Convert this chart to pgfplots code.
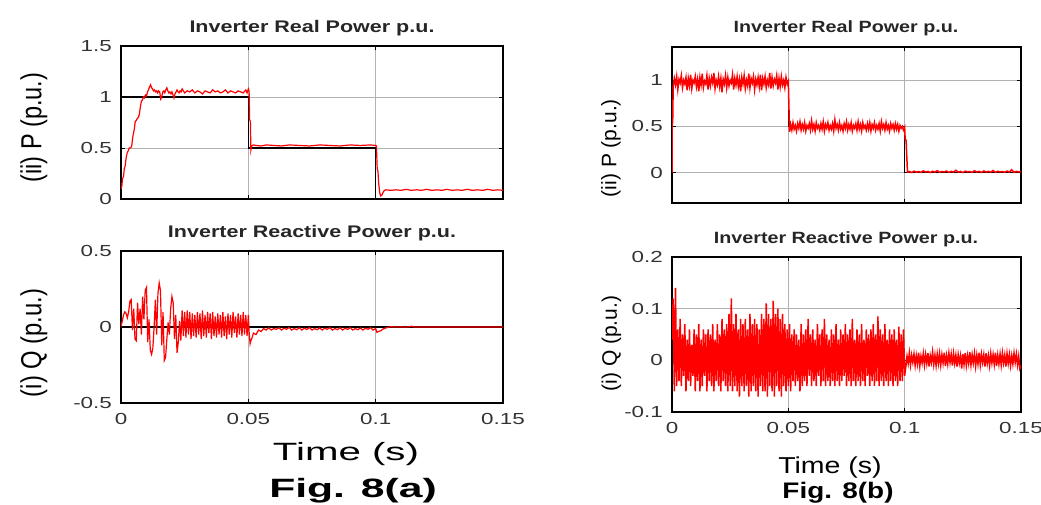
\documentclass[border=0pt]{standalone}
\usepackage{fontspec}
\setmainfont{Liberation Sans}
\usepackage{pgfplots}
\pgfplotsset{compat=1.18}

\pgfplotsset{
  mat/.style={
    scale only axis,
    anchor=south west,
    xmin=0, xmax=0.15,
    xtick={0,0.05,0.1,0.15},
    grid=major,
    grid style={black!30, line width=0.8pt},
    axis line style={line width=1.3pt},
    tick style={black, line width=0.6pt},
    major tick length=4pt,
    tick label style={font=\fontsize{16}{16}\selectfont, text=black!80, xscale=1.4},
    yticklabel style={xshift=-3pt},
    xticklabel style={yshift=-7pt},
  },
  reftrace/.style={black, line width=1.1pt},
  meas/.style={red, line width=1.2pt},
  measb/.style={red, line width=1.5pt},
}

\begin{document}
\begin{tikzpicture}
\useasboundingbox (0pt,0pt) rectangle (1041pt,504pt);

% ---------- Fig. 8(a), real power ----------
\begin{axis}[mat, at={(121pt,305pt)}, width=382pt, height=153pt,
  ymin=0, ymax=1.5, ytick={0,0.5,1,1.5}, yticklabels={0,0.5,1,1.5},
  xticklabels={}]
\addplot[reftrace] coordinates {(0,0) (0,1) (0.05,1) (0.05,0.5) (0.1,0.5) (0.1,0) (0.15,0)};
\addplot[meas] coordinates {
(0,0.1) (0.0003,0.12) (0.0006,0.2) (0.001,0.22) (0.0013,0.3) (0.0016,0.32) (0.002,0.4) (0.0024,0.45)
(0.0028,0.47) (0.0032,0.5) (0.0038,0.5) (0.0042,0.52) (0.0047,0.62) (0.0052,0.68) (0.0056,0.76) (0.006,0.77)
(0.0064,0.79) (0.0068,0.8) (0.0072,0.83) (0.0076,0.9) (0.008,0.96) (0.0084,0.97) (0.0088,1.0) (0.0092,0.99)
(0.0096,1.02) (0.01,1.01) (0.0104,1.05) (0.0108,1.07) (0.0112,1.1) (0.0116,1.12) (0.012,1.09) (0.0124,1.08)
(0.0128,1.06) (0.0132,1.07) (0.0136,1.05) (0.014,1.06) (0.0144,1.04) (0.0148,1.06) (0.0152,1.05) (0.0156,0.98)
(0.016,1.0) (0.0164,1.05) (0.0168,1.06) (0.0172,1.04) (0.0176,1.07) (0.018,1.09) (0.0184,1.06) (0.0188,1.04)
(0.0192,1.05) (0.0196,1.03) (0.02,1.05) (0.0204,1.02) (0.0208,0.99) (0.0212,1.03) (0.0216,1.05) (0.022,1.07)
(0.0224,1.05) (0.0228,1.04) (0.0232,1.06) (0.0236,1.05) (0.024,1.08) (0.025,1.04) (0.026,1.06) (0.027,1.05)
(0.028,1.07) (0.029,1.04) (0.03,1.06) (0.031,1.05) (0.032,1.03) (0.033,1.06) (0.034,1.05) (0.035,1.04)
(0.036,1.07) (0.037,1.05) (0.038,1.06) (0.039,1.04) (0.04,1.05) (0.041,1.07) (0.042,1.04) (0.043,1.06)
(0.044,1.05) (0.045,1.04) (0.046,1.06) (0.047,1.05) (0.048,1.04) (0.049,1.07) (0.0495,1.04) (0.05,1.08)
(0.0503,1.06) (0.0505,0.78) (0.0508,0.76) (0.051,0.48) (0.0513,0.52) (0.052,0.53) (0.053,0.525) (0.055,0.52)
(0.057,0.53) (0.06,0.525) (0.063,0.52) (0.066,0.53) (0.07,0.525) (0.074,0.52) (0.078,0.53) (0.082,0.525)
(0.086,0.52) (0.09,0.53) (0.094,0.525) (0.098,0.53) (0.1,0.525) (0.1003,0.52) (0.1006,0.3) (0.1009,0.27)
(0.1012,0.15) (0.1016,0.06) (0.102,0.03) (0.1025,0.04) (0.103,0.07) (0.1035,0.085) (0.104,0.09) (0.106,0.085)
(0.108,0.09) (0.11,0.085) (0.112,0.095) (0.114,0.085) (0.116,0.09) (0.118,0.085) (0.12,0.095) (0.122,0.085)
(0.124,0.09) (0.126,0.085) (0.128,0.095) (0.13,0.085) (0.132,0.09) (0.134,0.085) (0.136,0.095) (0.138,0.085)
(0.14,0.09) (0.142,0.085) (0.144,0.095) (0.146,0.085) (0.148,0.09) (0.15,0.085)};
\end{axis}

% ---------- Fig. 8(a), reactive power ----------
\begin{axis}[mat, at={(121pt,101pt)}, width=382pt, height=152pt,
  ymin=-0.5, ymax=0.5, ytick={-0.5,0,0.5}, yticklabels={-0.5,0,0.5},
  xticklabels={0,0.05,0.1,0.15}]
\addplot[reftrace] coordinates {(0,0) (0.15,0)};
\addplot[meas] coordinates {
(0,0) (0.0005,0.04) (0.001,0.08) (0.0015,0.1) (0.002,0.09) (0.0025,0.06) (0.003,0.1) (0.0035,0.17)
(0.004,0.18) (0.0045,-0.02) (0.005,0.12) (0.0055,-0.08) (0.006,-0.09) (0.0065,0.16) (0.007,0.02) (0.0075,0.12)
(0.008,-0.05) (0.0085,0.2) (0.009,0.05) (0.0095,0.24) (0.01,0.26) (0.0105,-0.1) (0.011,0.05) (0.0115,-0.15)
(0.012,-0.18) (0.0125,-0.14) (0.013,0.0) (0.0135,0.18) (0.014,-0.05) (0.0145,0.22) (0.015,0.29) (0.0155,0.24)
(0.016,-0.12) (0.0165,0.1) (0.017,-0.22) (0.0175,-0.2) (0.018,-0.08) (0.0185,0.03) (0.019,-0.05) (0.0195,0.12)
(0.02,0.2) (0.0205,0.16) (0.021,-0.08) (0.0215,0.08) (0.022,-0.17) (0.0225,-0.1) (0.023,0.04) (0.0235,-0.09)
(0.024,0.11) (0.0245,-0.06) (0.025,0.1) (0.0255,-0.07) (0.026,0.11) (0.0265,-0.05) (0.027,0.1) (0.0275,-0.08)
(0.028,0.09) (0.0285,-0.06) (0.029,0.08) (0.0295,-0.07) (0.03,0.1) (0.0305,-0.05) (0.031,0.09) (0.0315,-0.08)
(0.032,0.11) (0.0325,-0.06) (0.033,0.08) (0.0335,-0.07) (0.034,0.1) (0.0345,-0.04) (0.035,0.09) (0.0355,-0.08)
(0.036,0.1) (0.0365,-0.06) (0.037,0.07) (0.0375,-0.07) (0.038,0.09) (0.0385,-0.05) (0.039,0.08) (0.0395,-0.07)
(0.04,0.1) (0.0405,-0.06) (0.041,0.07) (0.0415,-0.08) (0.042,0.09) (0.0425,-0.05) (0.043,0.08) (0.0435,-0.07)
(0.044,0.1) (0.0445,-0.04) (0.045,0.07) (0.0455,-0.07) (0.046,0.09) (0.0465,-0.05) (0.047,0.08) (0.0475,-0.06)
(0.048,0.1) (0.0485,-0.05) (0.049,0.08) (0.0495,-0.06) (0.05,0.08) (0.0503,-0.03) (0.0507,-0.11) (0.051,-0.09)
(0.0515,-0.07) (0.052,-0.04) (0.053,-0.05) (0.054,-0.02) (0.055,-0.03) (0.056,-0.01) (0.057,-0.02) (0.058,-0.005)
(0.059,-0.02) (0.06,-0.01) (0.061,-0.015) (0.062,-0.005) (0.063,-0.02) (0.064,-0.008) (0.065,-0.015) (0.066,-0.003)
(0.067,-0.02) (0.068,-0.01) (0.069,-0.018) (0.07,-0.005) (0.071,-0.02) (0.072,-0.008) (0.073,-0.016) (0.074,-0.004)
(0.075,-0.02) (0.076,-0.01) (0.077,-0.018) (0.078,-0.006) (0.079,-0.02) (0.08,-0.008) (0.081,-0.015) (0.082,-0.004)
(0.083,-0.02) (0.084,-0.01) (0.085,-0.017) (0.086,-0.005) (0.087,-0.02) (0.088,-0.008) (0.089,-0.016) (0.09,-0.004)
(0.091,-0.02) (0.092,-0.01) (0.093,-0.018) (0.094,-0.006) (0.095,-0.02) (0.096,-0.008) (0.097,-0.015) (0.098,-0.004)
(0.099,-0.02) (0.1,-0.01) (0.1005,-0.035) (0.101,-0.03) (0.102,-0.025) (0.103,-0.012) (0.104,-0.006) (0.105,-0.002)
(0.106,0.002) (0.107,0) (0.113,0) (0.114,0.005) (0.115,0) (0.15,0)};
\end{axis}

% ---------- Fig. 8(b), real power ----------
\begin{axis}[mat, at={(672pt,301pt)}, width=349pt, height=156pt,
  ymin=-0.33, ymax=1.36, ytick={0,0.5,1}, yticklabels={0,0.5,1},
  xticklabels={}]
\addplot[reftrace] coordinates {(0,0) (0,1) (0.05,1) (0.05,0.5) (0.1,0.5) (0.1,0) (0.15,0)};
\addplot[measb] coordinates {
(0,0) (0.0001,0.52) (0.0003,0.55)
(0.0005,0.93) (0.001,1.02) (0.0015,0.95) (0.002,1.04) (0.0025,0.9) (0.003,1.01) (0.0035,0.97) (0.004,1.05) (0.0045,0.92) (0.005,1.0)
(0.0055,0.96) (0.006,1.03) (0.0065,0.89) (0.007,1.02) (0.0075,0.94) (0.008,1.06) (0.0085,0.91) (0.009,1.0) (0.0095,0.97) (0.01,1.04)
(0.0105,0.93) (0.011,1.01) (0.0115,0.88) (0.012,1.03) (0.0125,0.95) (0.013,1.07) (0.0135,0.92) (0.014,0.99) (0.0145,0.96) (0.015,1.05)
(0.0155,0.9) (0.016,1.02) (0.0165,0.94) (0.017,1.03) (0.0175,0.97) (0.018,1.08) (0.0185,0.91) (0.019,1.0) (0.0195,0.95) (0.02,1.04)
(0.0205,0.93) (0.021,1.02) (0.0215,0.87) (0.022,1.01) (0.0225,0.96) (0.023,1.05) (0.0235,0.92) (0.024,1.03) (0.0245,0.94) (0.025,1.0)
(0.0255,0.97) (0.026,1.06) (0.0265,0.9) (0.027,1.02) (0.0275,0.95) (0.028,1.04) (0.0285,0.93) (0.029,1.01) (0.0295,0.88) (0.03,1.03)
(0.0305,0.96) (0.031,1.05) (0.0315,0.91) (0.032,1.0) (0.0325,0.94) (0.033,1.07) (0.0335,0.92) (0.034,1.02) (0.0345,0.97) (0.035,1.04)
(0.0355,0.9) (0.036,1.01) (0.0365,0.95) (0.037,1.03) (0.0375,0.93) (0.038,1.06) (0.0385,0.89) (0.039,1.02) (0.0395,0.96) (0.04,1.04)
(0.0405,0.92) (0.041,1.0) (0.0415,0.95) (0.042,1.08) (0.0425,0.91) (0.043,1.03) (0.0435,0.94) (0.044,1.01) (0.0445,0.97) (0.045,1.05)
(0.0455,0.9) (0.046,1.02) (0.0465,0.93) (0.047,1.04) (0.0475,0.95) (0.048,1.0) (0.0485,0.92) (0.049,1.03) (0.0495,0.96) (0.05,0.99)
(0.0505,0.44) (0.051,0.52) (0.0515,0.46) (0.052,0.54) (0.0525,0.47) (0.053,0.51) (0.0535,0.45) (0.054,0.53) (0.0545,0.48) (0.055,0.55)
(0.0555,0.46) (0.056,0.52) (0.0565,0.47) (0.057,0.54) (0.0575,0.45) (0.058,0.51) (0.0585,0.48) (0.059,0.53) (0.0595,0.46) (0.06,0.56)
(0.0605,0.47) (0.061,0.52) (0.0615,0.45) (0.062,0.54) (0.0625,0.48) (0.063,0.51) (0.0635,0.46) (0.064,0.53) (0.0645,0.47) (0.065,0.55)
(0.0655,0.45) (0.066,0.52) (0.0665,0.48) (0.067,0.54) (0.0675,0.46) (0.068,0.51) (0.0685,0.47) (0.069,0.53) (0.0695,0.45) (0.07,0.57)
(0.0705,0.48) (0.071,0.52) (0.0715,0.46) (0.072,0.54) (0.0725,0.47) (0.073,0.51) (0.0735,0.45) (0.074,0.53) (0.0745,0.48) (0.075,0.55)
(0.0755,0.46) (0.076,0.52) (0.0765,0.47) (0.077,0.54) (0.0775,0.45) (0.078,0.51) (0.0785,0.48) (0.079,0.53) (0.0795,0.46) (0.08,0.55)
(0.0805,0.47) (0.081,0.52) (0.0815,0.45) (0.082,0.54) (0.0825,0.48) (0.083,0.51) (0.0835,0.46) (0.084,0.53) (0.0845,0.47) (0.085,0.54)
(0.0855,0.45) (0.086,0.52) (0.0865,0.48) (0.087,0.54) (0.0875,0.46) (0.088,0.51) (0.0885,0.47) (0.089,0.53) (0.0895,0.45) (0.09,0.55)
(0.0905,0.48) (0.091,0.52) (0.0915,0.46) (0.092,0.54) (0.0925,0.47) (0.093,0.51) (0.0935,0.45) (0.094,0.53) (0.0945,0.48) (0.095,0.52)
(0.0955,0.46) (0.096,0.53) (0.0965,0.47) (0.097,0.52) (0.0975,0.45) (0.098,0.51) (0.0985,0.48) (0.099,0.5) (0.0995,0.46) (0.1,0.49)
(0.1002,0.36) (0.1006,0.35) (0.1012,0.005)
(0.102,0.012) (0.103,0.0) (0.104,0.015) (0.105,0.004) (0.106,0.01) (0.107,0.002) (0.108,0.018) (0.109,0.006) (0.11,0.012)
(0.111,0.0) (0.112,0.014) (0.113,0.005) (0.114,0.02) (0.115,0.003) (0.116,0.011) (0.117,0.007) (0.118,0.016) (0.119,0.002) (0.12,0.013)
(0.121,0.006) (0.122,0.025) (0.123,0.004) (0.124,0.012) (0.125,0.0) (0.126,0.015) (0.127,0.008) (0.128,0.011) (0.129,0.003) (0.13,0.019)
(0.131,0.005) (0.132,0.013) (0.133,0.001) (0.134,0.017) (0.135,0.006) (0.136,0.012) (0.137,0.004) (0.138,0.022) (0.139,0.002) (0.14,0.014)
(0.141,0.007) (0.142,0.011) (0.143,0.003) (0.144,0.016) (0.145,0.005) (0.146,0.03) (0.147,0.002) (0.148,0.013) (0.149,0.006) (0.15,0.01)};
\end{axis}

% ---------- Fig. 8(b), reactive power ----------
\begin{axis}[mat, at={(672pt,92pt)}, width=349pt, height=155pt,
  ymin=-0.1, ymax=0.2, ytick={-0.1,0,0.1,0.2}, yticklabels={-0.1,0,0.1,0.2},
  xticklabels={0,0.05,0.1,0.15}]
\addplot[reftrace] coordinates {(0,0) (0.15,0)};
\addplot[measb] coordinates {
(0,0.04)
(0.0005,0.12) (0.001,-0.06) (0.0015,0.14) (0.002,-0.05) (0.0025,0.06) (0.003,-0.04) (0.0035,0.08) (0.004,-0.05) (0.0045,0.05) (0.005,-0.03)
(0.0055,0.07) (0.006,-0.06) (0.0065,0.04) (0.007,-0.04) (0.0075,0.06) (0.008,-0.05) (0.0085,0.03) (0.009,-0.03) (0.0095,0.06) (0.01,-0.06)
(0.0105,0.05) (0.011,-0.04) (0.0115,0.07) (0.012,-0.06) (0.0125,0.04) (0.013,-0.05) (0.0135,0.06) (0.014,-0.03) (0.0145,0.05) (0.015,-0.06)
(0.0155,0.06) (0.016,-0.04) (0.0165,0.05) (0.017,-0.05) (0.0175,0.07) (0.018,-0.06) (0.0185,0.04) (0.019,-0.04) (0.0195,0.07) (0.02,-0.05)
(0.0205,0.05) (0.021,-0.06) (0.0215,0.08) (0.022,-0.04) (0.0225,0.06) (0.023,-0.05) (0.0235,0.07) (0.024,-0.06) (0.0245,0.09) (0.025,-0.05)
(0.0255,0.12) (0.026,-0.06) (0.0265,0.07) (0.027,-0.05) (0.0275,0.09) (0.028,-0.06) (0.0285,0.06) (0.029,-0.07) (0.0295,0.08) (0.03,-0.05)
(0.0305,0.07) (0.031,-0.06) (0.0315,0.08) (0.032,-0.05) (0.0325,0.06) (0.033,-0.07) (0.0335,0.09) (0.034,-0.06) (0.0345,0.07) (0.035,-0.05)
(0.0355,0.08) (0.036,-0.06) (0.0365,0.07) (0.037,-0.07) (0.0375,0.06) (0.038,-0.05) (0.0385,0.09) (0.039,-0.06) (0.0395,0.08) (0.04,-0.06)
(0.0405,0.11) (0.041,-0.07) (0.0415,0.09) (0.042,-0.05) (0.0425,0.08) (0.043,-0.06) (0.0435,0.115) (0.044,-0.07) (0.0445,0.09) (0.045,-0.05)
(0.0455,0.1) (0.046,-0.06) (0.0465,0.08) (0.047,-0.07) (0.0475,0.09) (0.048,-0.05) (0.0485,0.07) (0.049,-0.06) (0.0495,0.06) (0.05,-0.05)
(0.0505,0.07) (0.051,-0.06) (0.0515,0.05) (0.052,-0.04) (0.0525,0.06) (0.053,-0.05) (0.0535,0.05) (0.054,-0.04) (0.0545,0.04) (0.055,-0.06)
(0.0555,0.07) (0.056,-0.05) (0.0565,0.05) (0.057,-0.04) (0.0575,0.06) (0.058,-0.05) (0.0585,0.08) (0.059,-0.03) (0.0595,0.05) (0.06,-0.05)
(0.0605,0.06) (0.061,-0.04) (0.0615,0.04) (0.062,-0.05) (0.0625,0.07) (0.063,-0.03) (0.0635,0.05) (0.064,-0.05) (0.0645,0.06) (0.065,-0.04)
(0.0655,0.08) (0.066,-0.05) (0.0665,0.05) (0.067,-0.04) (0.0675,0.04) (0.068,-0.05) (0.0685,0.06) (0.069,-0.04) (0.0695,0.05) (0.07,-0.05)
(0.0705,0.07) (0.071,-0.04) (0.0715,0.04) (0.072,-0.05) (0.0725,0.06) (0.073,-0.04) (0.0735,0.05) (0.074,-0.03) (0.0745,0.07) (0.075,-0.05)
(0.0755,0.05) (0.076,-0.04) (0.0765,0.06) (0.077,-0.05) (0.0775,0.08) (0.078,-0.04) (0.0785,0.04) (0.079,-0.05) (0.0795,0.06) (0.08,-0.04)
(0.0805,0.05) (0.081,-0.05) (0.0815,0.07) (0.082,-0.04) (0.0825,0.04) (0.083,-0.05) (0.0835,0.06) (0.084,-0.03) (0.0845,0.05) (0.085,-0.05)
(0.0855,0.06) (0.086,-0.04) (0.0865,0.07) (0.087,-0.05) (0.0875,0.05) (0.088,-0.04) (0.0885,0.085) (0.089,-0.05) (0.0895,0.06) (0.09,-0.04)
(0.0905,0.05) (0.091,-0.05) (0.0915,0.07) (0.092,-0.04) (0.0925,0.04) (0.093,-0.05) (0.0935,0.06) (0.094,-0.04) (0.0945,0.05) (0.095,-0.05)
(0.0955,0.06) (0.096,-0.04) (0.0965,0.04) (0.097,-0.05) (0.0975,0.065) (0.098,-0.04) (0.0985,0.05) (0.099,-0.04) (0.0995,0.06) (0.1,-0.03)
(0.1005,-0.012) (0.101,0.008) (0.1015,-0.006) (0.102,0.014) (0.1025,-0.009) (0.103,0.01) (0.1035,-0.004) (0.104,0.012) (0.1045,-0.01) (0.105,0.009)
(0.1055,-0.007) (0.106,0.015) (0.1065,-0.011) (0.107,0.008) (0.1075,-0.005) (0.108,0.013) (0.1085,-0.009) (0.109,0.011) (0.1095,-0.006) (0.11,0.014)
(0.1105,-0.012) (0.111,0.009) (0.1115,-0.004) (0.112,0.016) (0.1125,-0.008) (0.113,0.01) (0.1135,-0.01) (0.114,0.012) (0.1145,-0.006) (0.115,0.013)
(0.1155,-0.009) (0.116,0.011) (0.1165,-0.005) (0.117,0.015) (0.1175,-0.011) (0.118,0.009) (0.1185,-0.007) (0.119,0.014) (0.1195,-0.004) (0.12,0.012)
(0.1205,-0.01) (0.121,0.013) (0.1215,-0.006) (0.122,0.01) (0.1225,-0.012) (0.123,0.011) (0.1235,-0.005) (0.124,0.009) (0.1245,-0.016) (0.125,0.012)
(0.1255,-0.008) (0.126,0.014) (0.1265,-0.01) (0.127,0.009) (0.1275,-0.006) (0.128,0.016) (0.1285,-0.009) (0.129,0.011) (0.1295,-0.005) (0.13,0.013)
(0.1305,-0.011) (0.131,0.01) (0.1315,-0.007) (0.132,0.015) (0.1325,-0.009) (0.133,0.012) (0.1335,-0.004) (0.134,0.011) (0.1345,-0.012) (0.135,0.014)
(0.1355,-0.006) (0.136,0.009) (0.1365,-0.01) (0.137,0.013) (0.1375,-0.005) (0.138,0.011) (0.1385,-0.008) (0.139,0.015) (0.1395,-0.011) (0.14,0.01)
(0.1405,-0.007) (0.141,0.012) (0.1415,-0.009) (0.142,0.014) (0.1425,-0.005) (0.143,0.01) (0.1435,-0.012) (0.144,0.013) (0.1445,-0.006) (0.145,0.011)
(0.1455,-0.01) (0.146,0.009) (0.1465,-0.007) (0.147,0.014) (0.1475,-0.004) (0.148,0.012) (0.1485,-0.009) (0.149,0.008) (0.1495,-0.016) (0.15,-0.01)};
\end{axis}

% ---------- titles and labels ----------
\begin{scope}[every node/.style={text=black!85, inner sep=0pt}]
\node[anchor=base, xscale=1.28, font=\bfseries\fontsize{16.8}{17}\selectfont] at (312pt,471pt) {Inverter Real Power p.u.};
\node[anchor=base, xscale=1.28, font=\bfseries\fontsize{16.8}{17}\selectfont] at (312pt,266pt) {Inverter Reactive Power p.u.};
\node[anchor=base, xscale=1.21, font=\bfseries\fontsize{16.3}{17}\selectfont] at (846pt,471pt) {Inverter Real Power p.u.};
\node[anchor=base, xscale=1.21, font=\bfseries\fontsize{16.3}{17}\selectfont] at (846pt,260pt) {Inverter Reactive Power p.u.};
\end{scope}
\begin{scope}[every node/.style={text=black, inner sep=0pt}]
\node[rotate=90, font=\fontsize{29}{29}\selectfont] at (34pt,376.5pt) {\scalebox{0.81}[1]{(ii) P (p.u.)}};
\node[rotate=90, font=\fontsize{29}{29}\selectfont] at (34pt,161pt) {\scalebox{0.82}[1]{(i) Q (p.u.)}};
\node[rotate=90, font=\fontsize{21}{21}\selectfont] at (611pt,356pt) {(ii) P (p.u.)};
\node[rotate=90, font=\fontsize{21}{21}\selectfont] at (611.5pt,160.5pt) {(i) Q (p.u.)};
\node[anchor=base, xscale=1.61, font=\fontsize{25}{25}\selectfont] at (346pt,44pt) {Time (s)};
\node[anchor=base, xscale=1.61, font=\bfseries\fontsize{26.5}{27}\selectfont] at (353pt,7pt) {Fig. 8(a)};
\node[anchor=base, xscale=1.24, font=\fontsize{23}{23}\selectfont] at (830pt,31pt) {Time (s)};
\node[anchor=base, xscale=1.24, font=\bfseries\fontsize{22.5}{23}\selectfont] at (838pt,5.5pt) {Fig. 8(b)};
\end{scope}
\end{tikzpicture}
\end{document}
